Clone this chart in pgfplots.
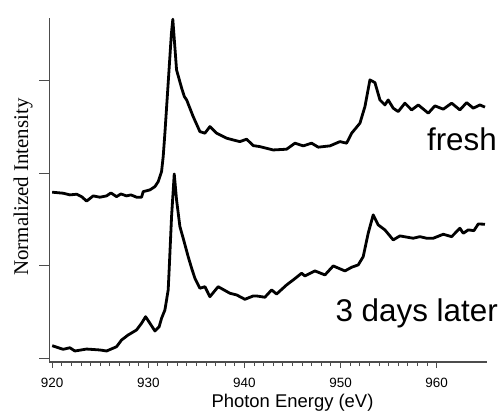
\documentclass[border=0pt]{standalone}
\usepackage{fontspec}
\setmainfont{Liberation Sans}
\newfontfamily\serifface{Liberation Serif}
\usepackage{pgfplots}
\usepackage{pgfplotstable}
\pgfplotsset{compat=1.18}

% fresh sample
\pgfplotstableread{
E v
920.00 1.793
921.14 1.782
921.84 1.764
922.54 1.771
923.06 1.745
923.58 1.697
924.27 1.753
924.96 1.739
925.66 1.753
926.11 1.785
926.70 1.745
927.15 1.774
927.74 1.753
928.19 1.764
928.78 1.739
929.30 1.739
929.47 1.799
930.17 1.818
930.69 1.853
931.03 1.907
931.38 2.015
931.55 2.177
931.73 2.433
932.07 2.973
932.40 3.500
932.55 3.660
932.94 3.113
933.46 2.920
933.75 2.825
933.99 2.789
934.67 2.609
935.37 2.447
935.89 2.430
936.41 2.501
937.11 2.430
938.15 2.376
938.83 2.357
939.53 2.339
940.23 2.365
940.92 2.296
941.61 2.285
943.00 2.249
944.39 2.257
945.26 2.322
946.12 2.293
946.99 2.322
947.68 2.279
948.90 2.293
949.94 2.339
950.63 2.322
951.16 2.430
952.02 2.538
952.54 2.717
953.06 3.005
953.58 2.976
954.10 2.789
954.62 2.735
954.96 2.789
955.48 2.700
956.00 2.663
956.70 2.754
957.40 2.681
958.09 2.735
959.13 2.646
959.82 2.725
960.69 2.689
961.56 2.754
962.42 2.681
963.12 2.760
963.81 2.700
964.50 2.735
965.03 2.711
}\fresh

% same sample, 3 days later
\pgfplotstableread{
E v
920.00 0.136
921.14 0.097
921.84 0.114
922.36 0.079
923.58 0.100
924.96 0.090
925.66 0.079
926.70 0.125
927.22 0.198
927.91 0.252
928.78 0.306
929.30 0.378
929.72 0.449
930.17 0.378
930.69 0.295
931.13 0.341
931.38 0.432
931.73 0.522
932.07 0.738
932.17 0.954
932.42 1.529
932.70 1.990
932.94 1.710
933.29 1.421
933.63 1.296
934.15 1.097
934.51 0.972
934.85 0.864
935.37 0.756
935.89 0.773
936.41 0.665
937.27 0.773
938.49 0.702
939.19 0.684
940.05 0.637
940.92 0.673
941.27 0.673
942.13 0.659
942.83 0.738
943.35 0.694
944.39 0.792
945.08 0.846
945.95 0.918
946.30 0.889
947.34 0.943
948.38 0.900
949.24 0.997
950.46 0.943
951.16 0.983
951.84 1.008
952.36 1.097
952.88 1.350
953.40 1.548
953.92 1.440
954.62 1.386
955.48 1.278
956.18 1.321
957.56 1.296
958.26 1.313
958.96 1.296
959.65 1.296
960.69 1.339
961.56 1.313
962.42 1.404
962.77 1.350
963.29 1.386
963.88 1.378
964.33 1.450
965.03 1.447
}\later

\begin{document}
\begin{tikzpicture}[x=1bp,y=1bp]
  \useasboundingbox (-49.3,-50) rectangle (454.7,362);
  \begin{axis}[
      at={(0,0)}, anchor=south west,
      scale only axis,
      width=437.3bp, height=343.7bp,
      xmin=919.7, xmax=965.2,
      ymin=-0.04, ymax=3.67,
      axis x line*=bottom,
      axis y line*=left,
      axis line style={draw=black!70,line width=1.1bp,-},
      xtick={920,930,940,950,960},
      minor x tick num=9,
      ytick={0,1,2,3},
      yticklabels={},
      tick align=outside,
      major tick length=6bp,
      minor tick length=4bp,
      tick style={draw=black!70,line width=0.9bp},
      ytick style={/pgfplots/major tick length=10bp},
      xticklabel style={font=\fontsize{13.5}{14}\selectfont,yshift=-7bp},
      /pgf/number format/assume math mode=true,
      /pgf/number format/1000 sep={},
      clip=false]
    \addplot[black,line width=2.8bp,line join=round] table[x=E,y=v] {\fresh};
    \addplot[black,line width=2.8bp,line join=round] table[x=E,y=v] {\later};
  \end{axis}
  \node[rotate=90,font=\serifface\fontsize{21}{21}\selectfont] at (-26.3,175) {Normalized Intensity};
  \node[anchor=base,font=\fontsize{18.5}{19}\selectfont] at (243.2,-45.5) {Photon Energy (eV)};
  \node[anchor=base east,inner sep=0pt,font=\fontsize{31.5}{32}\selectfont] at (447.7,212) {fresh};
  \node[anchor=base east,inner sep=0pt,font=\fontsize{31.5}{32}\selectfont] at (448.7,40.3) {3 days later};
\end{tikzpicture}
\end{document}
